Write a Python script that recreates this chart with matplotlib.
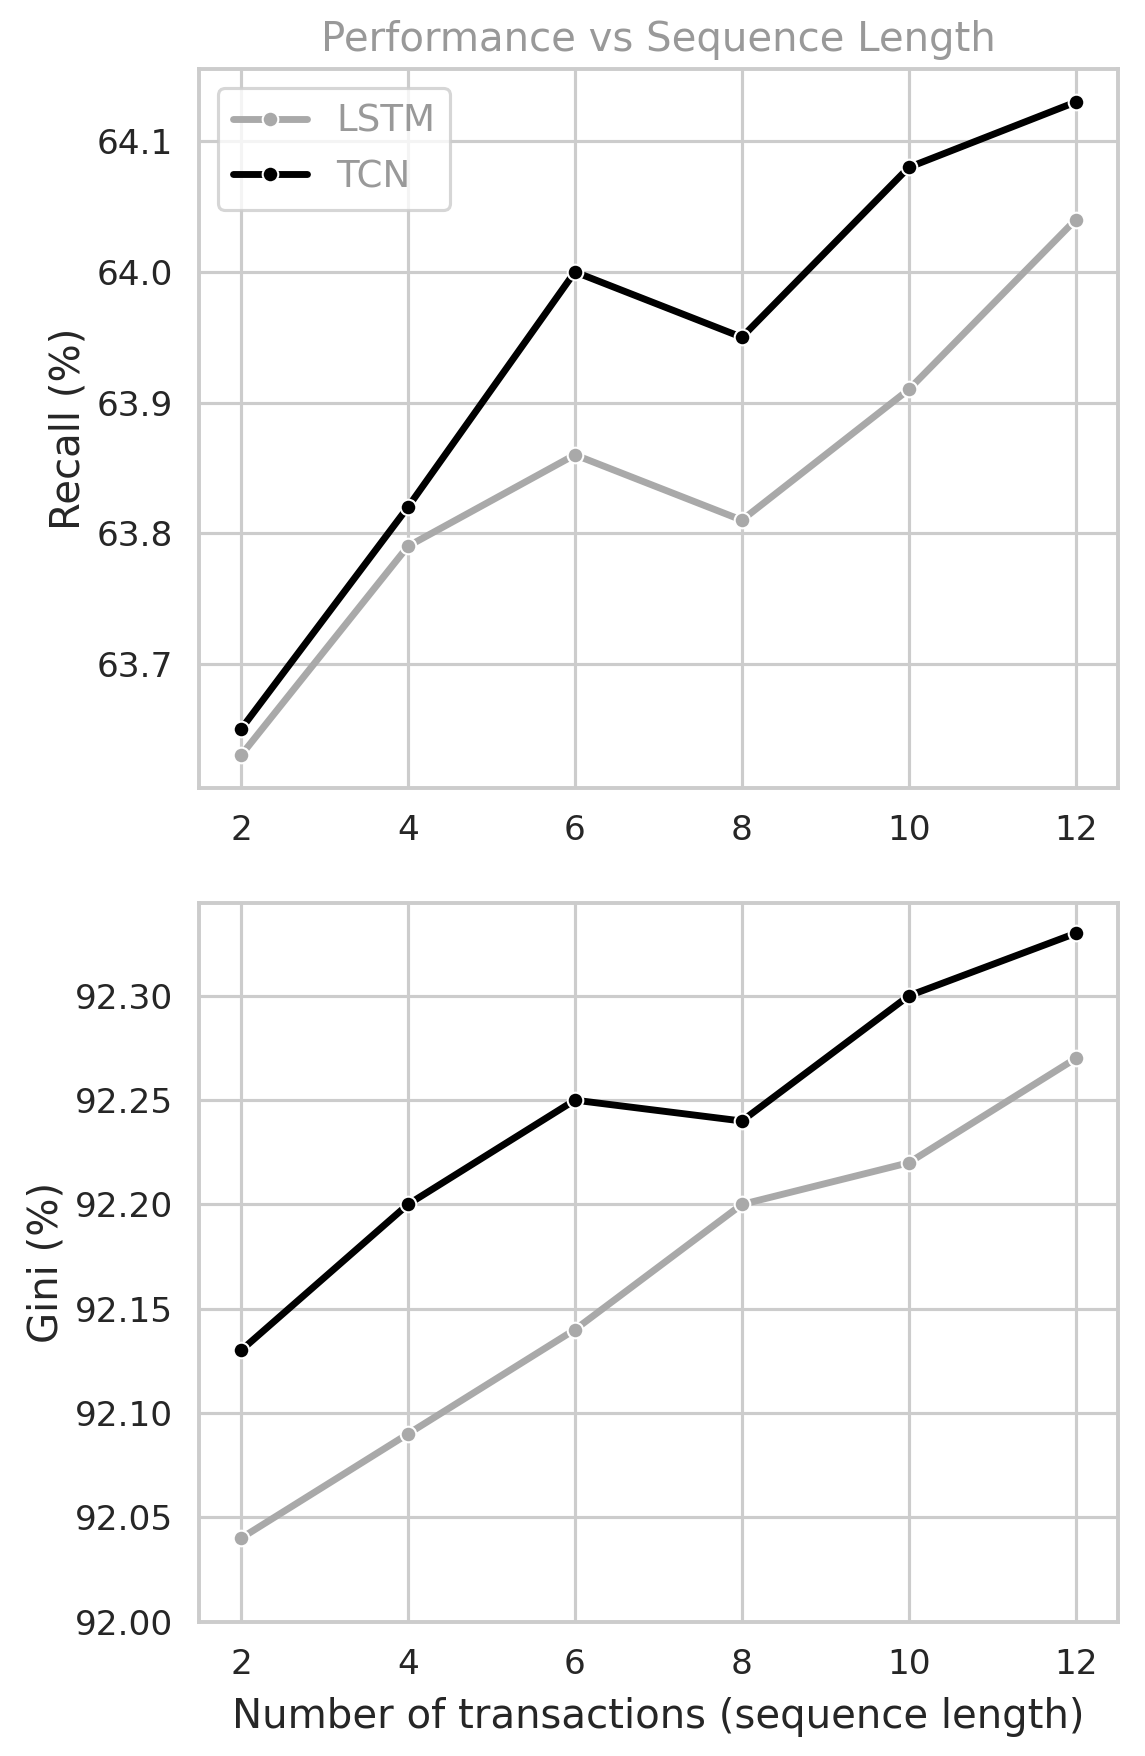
import numpy as np
import matplotlib
matplotlib.use("Agg")
import matplotlib.pyplot as plt
import seaborn as sns

# data
seq_len = [2, 4, 6, 8, 10, 12]
recall_lstm = [63.63, 63.79, 63.86, 63.81, 63.91, 64.04]
recall_tcn = [63.65, 63.82, 64.00, 63.95, 64.08, 64.13]
gini_lstm = [92.04, 92.09, 92.14, 92.20, 92.22, 92.27]
gini_tcn = [92.13, 92.20, 92.25, 92.24, 92.30, 92.33]

sns.set_theme(style="whitegrid", context="talk")
plt.rcParams['font.family'] = ['DejaVu Sans']

fig, (ax1, ax2) = plt.subplots(2, 1, figsize=(1145 / 150, 1756 / 150), dpi=150)
fig.subplots_adjust(left=0.174, right=0.976, top=0.9605, bottom=0.0765, hspace=0.16)

lstm_col = "darkgray"
tcn_col = "black"
lw = 3.3
ms = 7.5

ax1.plot(seq_len, recall_lstm, color=lstm_col, lw=lw, marker="o", ms=ms,
         mec="white", mew=1, label="LSTM")
ax1.plot(seq_len, recall_tcn, color=tcn_col, lw=lw, marker="o", ms=ms,
         mec="white", mew=1, label="TCN")
ax1.set_ylabel("Recall (%)", fontsize=19.3)
ax1.set_title("Performance vs Sequence Length", color="#999999", fontsize=19.3, pad=9)
ax1.set_xticks(seq_len)
ax1.set_yticks([63.7, 63.8, 63.9, 64.0, 64.1])
leg = ax1.legend(loc="upper left", fontsize=17.8)
for t in leg.get_texts():
    t.set_color("#999999")

ax2.plot(seq_len, gini_lstm, color=lstm_col, lw=lw, marker="o", ms=ms,
         mec="white", mew=1)
ax2.plot(seq_len, gini_tcn, color=tcn_col, lw=lw, marker="o", ms=ms,
         mec="white", mew=1)
ax2.set_ylim(bottom=92.0)
ax2.set_xticks(seq_len)
ax2.set_yticks([92.00, 92.05, 92.10, 92.15, 92.20, 92.25, 92.30])
ax2.yaxis.set_major_formatter(matplotlib.ticker.FormatStrFormatter("%.2f"))
ax2.set_ylabel("Gini (%)", fontsize=19.3)
ax2.set_xlabel("Number of transactions (sequence length)", fontsize=19.3, labelpad=8)

fig.savefig("out.png", dpi=150)
